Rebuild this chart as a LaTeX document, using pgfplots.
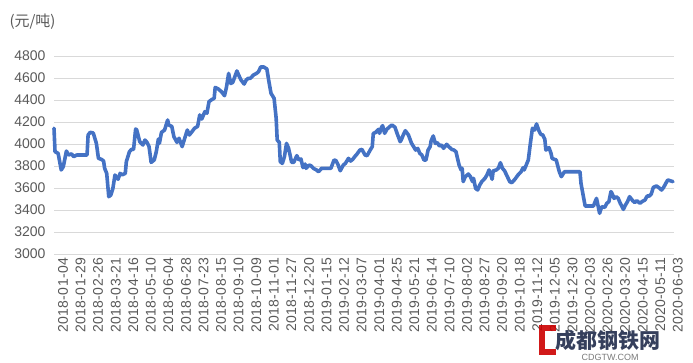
\documentclass[border=0pt]{standalone}
\usepackage{fontspec}
\setmainfont{Liberation Sans}
\newfontfamily\cjk{Noto Sans CJK SC}
\newfontfamily\datefont[LetterSpace=3]{Liberation Sans}
\usepackage{pgfplots}
\pgfplotsset{compat=1.18}
\definecolor{lineblue}{HTML}{4472C4}
\definecolor{gridgray}{HTML}{D9D9D9}
\definecolor{txtgray}{HTML}{595959}
\definecolor{navy}{HTML}{1F2A4A}
\begin{document}
\begin{tikzpicture}
\useasboundingbox (0pt,0pt) rectangle (693pt,362pt);
\node[anchor=west, font=\cjk\fontsize{15}{18}\selectfont, text=txtgray] at (6pt,340pt) {(元/吨)};
\begin{axis}[
  at={(54pt,108pt)}, anchor=south west,
  scale only axis, width=620pt, height=198pt,
  xmin=0, xmax=600, ymin=3000, ymax=4800,
  axis line style={draw=none},
  ytick={3000,3200,...,4800},
  ymajorgrids, grid style={gridgray, line width=1pt},
  major tick length=0pt,
  /pgf/number format/assume math mode=true,
  /pgf/number format/1000 sep={},
  yticklabel style={font=\fontsize{14}{16}\selectfont, text=txtgray, xshift=-5pt},
  xtick={0,17,...,595},
  xticklabels={2018-01-04,2018-01-29,2018-02-26,2018-03-21,2018-04-16,2018-05-10,2018-06-04,2018-06-28,2018-07-23,2018-08-15,2018-09-10,2018-10-09,2018-11-01,2018-11-27,2018-12-20,2019-01-15,2019-02-12,2019-03-07,2019-04-01,2019-04-25,2019-05-21,2019-06-14,2019-07-10,2019-08-02,2019-08-27,2019-09-20,2019-10-18,2019-11-12,2019-12-05,2019-12-30,2020-02-03,2020-02-26,2020-03-20,2020-04-15,2020-05-11,2020-06-03},
  xticklabel style={font=\datefont\fontsize{14}{15}\selectfont, text=txtgray, rotate=90, anchor=east, yshift=-9pt},
  clip=false,
]
\draw[gridgray, line width=1pt] (axis cs:0,3000) -- (axis cs:600,3000);
\addplot[lineblue, line width=3.6pt, line join=round, line cap=round] coordinates {
(0,4143)(1,3930)(4,3915)(7,3764)(9,3794)(12,3936)(14,3900)(17,3910)(19,3885)(22,3900)(32,3900)(33,4082)(35,4106)(38,4100)(41,4006)(43,3870)(46,3860)(48,3845)(49,3779)(51,3733)(53,3521)(55,3536)(57,3597)(59,3718)(61,3688)(62,3680)(64,3733)(66,3720)(69,3733)(70,3839)(73,3930)(75,3951)(77,3951)(79,4136)(80,4130)(83,4021)(86,3991)(88,4036)(90,4015)(92,3976)(94,3833)(97,3855)(99,3930)(101,4045)(102,4006)(104,4106)(107,4127)(110,4218)(111,4173)(114,4160)(116,4067)(119,4015)(121,4052)(124,3976)(127,4067)(129,4127)(131,4082)(134,4118)(136,4143)(139,4160)(141,4264)(143,4227)(146,4294)(148,4280)(150,4385)(153,4406)(155,4415)(156,4515)(159,4500)(162,4476)(165,4439)(167,4521)(169,4642)(171,4551)(173,4560)(177,4664)(179,4621)(181,4582)(184,4545)(186,4582)(188,4597)(190,4597)(193,4627)(196,4642)(198,4658)(200,4700)(203,4700)(206,4682)(208,4567)(210,4461)(213,4415)(215,4233)(216,4036)(218,4015)(219,3839)(221,3824)(223,3885)(225,4006)(227,3961)(230,3833)(232,3833)(235,3894)(237,3855)(239,3864)(241,3785)(243,3818)(244,3779)(247,3809)(249,3800)(251,3779)(254,3764)(256,3748)(259,3779)(268,3779)(271,3855)(273,3848)(275,3809)(277,3757)(280,3809)(282,3824)(285,3870)(287,3845)(289,3860)(291,3885)(293,3906)(296,3945)(298,3951)(301,3900)(303,3894)(306,3945)(308,3976)(309,4097)(311,4103)(314,4133)(315,4097)(317,4152)(318,4167)(320,4097)(322,4133)(325,4158)(327,4173)(330,4152)(332,4097)(335,4021)(336,4036)(338,4082)(340,4121)(343,4082)(346,4006)(348,3976)(350,3945)(352,3960)(354,3915)(356,3900)(358,3855)(360,3855)(362,3945)(364,3976)(365,4030)(367,4073)(369,4006)(371,4012)(373,3982)(375,3991)(377,3961)(380,3997)(382,3976)(385,3951)(387,3945)(389,3930)(392,3809)(394,3764)(395,3779)(396,3658)(398,3703)(401,3727)(403,3703)(405,3658)(406,3688)(408,3597)(410,3582)(412,3627)(414,3658)(417,3688)(419,3718)(421,3764)(422,3742)(424,3679)(425,3755)(428,3764)(430,3779)(432,3830)(434,3779)(436,3757)(438,3718)(441,3658)(443,3648)(446,3679)(449,3718)(452,3748)(454,3785)(455,3764)(457,3809)(459,3855)(461,4006)(463,4143)(465,4127)(467,4182)(469,4127)(471,4088)(473,4082)(475,4042)(476,3945)(479,3967)(481,3915)(482,3870)(484,3861)(486,3855)(489,3748)(491,3703)(494,3748)(509,3748)(510,3642)(514,3436)(522,3436)(525,3506)(526,3461)(528,3370)(530,3430)(533,3424)(535,3461)(537,3476)(539,3567)(540,3552)(542,3506)(544,3521)(546,3506)(548,3461)(551,3406)(553,3445)(555,3476)(557,3521)(560,3485)(562,3467)(564,3485)(567,3461)(569,3476)(572,3491)(574,3527)(576,3527)(578,3545)(580,3606)(583,3618)(585,3606)(588,3582)(590,3606)(592,3642)(594,3673)(596,3667)(599,3658)
};
\end{axis}
\node[anchor=west, font=\cjk\bfseries\fontsize{21}{22}\selectfont, text=navy, opacity=0.9] at (552pt,22pt) {成都钢铁网};
\node[anchor=west, font=\fontsize{9}{10}\selectfont, text=txtgray, opacity=0.8] at (578pt,5pt) {CDGTW.COM};
\draw[red!80!black, line width=6pt, opacity=0.9] (556pt,34pt) -- (542pt,34pt) -- (542pt,10pt) -- (556pt,10pt);
\end{tikzpicture}
\end{document}
